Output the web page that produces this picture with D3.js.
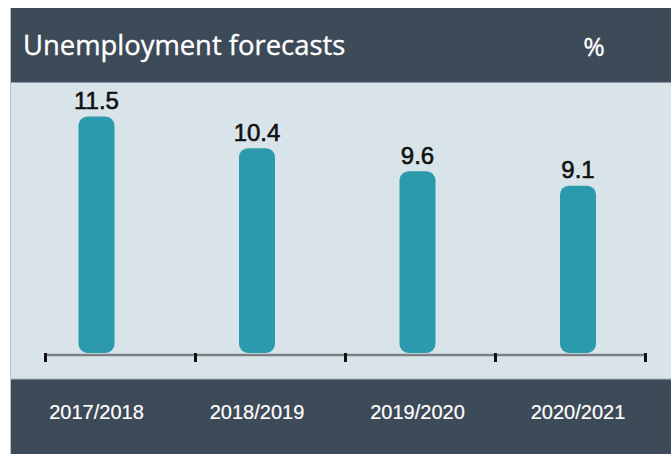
<!DOCTYPE html>
<html>
<head>
<meta charset="utf-8">
<script src="https://cdn.jsdelivr.net/npm/d3@7"></script>
<style>
  html, body { margin: 0; padding: 0; background: #ffffff; }
  svg { display: block; }
</style>
</head>
<body>
<svg id="chart" width="671" height="454"></svg>
<script>
// Unemployment forecasts, % by financial year
const categories = ["2017/2018", "2018/2019", "2019/2020", "2020/2021"];
const values = [11.5, 10.4, 9.6, 9.1];
const valueLabels = ["11.5", "10.4", "9.6", "9.1"];
const axisTicks = [0, 1, 2, 3, 4];
const title = "Unemployment forecasts";
const unit = "%";

const W = 671, H = 454;
const card = { x: 10.5, top: 8, headerBottom: 82.5, footerTop: 379 };
const colors = {
  dark: "#3d4a58",
  body: "#d9e4ea",
  bar: "#2b9aad",
  edge: "#8d99a4"
};

const svg = d3.select("#chart");

// Card panels: header, plot body, footer
svg.append("rect")
  .attr("x", card.x).attr("y", card.top)
  .attr("width", W - card.x + 2).attr("height", card.headerBottom - card.top)
  .attr("fill", colors.dark);
svg.append("rect")
  .attr("x", card.x).attr("y", card.headerBottom)
  .attr("width", W - card.x + 2).attr("height", card.footerTop - card.headerBottom)
  .attr("fill", colors.body);
svg.append("rect")
  .attr("x", card.x).attr("y", card.footerTop)
  .attr("width", W - card.x + 2).attr("height", H - card.footerTop + 2)
  .attr("fill", colors.dark);

// thin edges between panels and along the left side
svg.append("line")
  .attr("x1", card.x).attr("x2", W)
  .attr("y1", card.headerBottom).attr("y2", card.headerBottom)
  .attr("stroke", colors.edge).attr("stroke-width", 1);
svg.append("line")
  .attr("x1", card.x).attr("x2", W)
  .attr("y1", card.footerTop).attr("y2", card.footerTop)
  .attr("stroke", "#a9b5bd").attr("stroke-width", 1);
svg.append("line")
  .attr("x1", card.x).attr("x2", card.x)
  .attr("y1", card.top).attr("y2", H)
  .attr("stroke", "#b8c2c9").attr("stroke-width", 1);

// Header text
svg.append("text")
  .attr("x", 23).attr("y", 55)
  .attr("fill", "#ffffff")
  .attr("stroke", "#ffffff").attr("stroke-width", 0.35)
  .attr("font-family", "'Open Sans', sans-serif")
  .attr("font-size", 27.4)
  .text(title);
svg.append("text")
  .attr("x", 594).attr("y", 56)
  .attr("text-anchor", "middle")
  .attr("fill", "#ffffff")
  .attr("stroke", "#ffffff").attr("stroke-width", 0.3)
  .attr("font-family", "'Open Sans', sans-serif")
  .attr("font-size", 26)
  .text(unit);

// Scales
const x = d3.scalePoint().domain(categories).range([96.5, 578]);
const y = d3.scaleLinear().domain([3.3, 11.5]).range([353, 116.5]);
const tickScale = d3.scaleLinear().domain([0, 4]).range([45, 645]);
const barWidth = 36;

// Baseline axis with tick marks
const axisG = svg.append("g")
  .attr("transform", "translate(0,354.5)")
  .call(d3.axisBottom(tickScale)
    .tickValues(axisTicks)
    .tickSize(7.5)
    .tickSizeOuter(0)
    .tickFormat(""));
axisG.select(".domain")
  .attr("stroke", "#7b8085")
  .attr("stroke-width", 2.6);
axisG.selectAll(".tick line")
  .attr("stroke", "#111111")
  .attr("stroke-width", 3)
  .attr("y1", -1.5);

// Bars
svg.append("g").selectAll("rect")
  .data(values)
  .join("rect")
  .attr("x", (d, i) => x(categories[i]) - barWidth / 2)
  .attr("y", d => y(d))
  .attr("width", barWidth)
  .attr("height", d => y.range()[0] - y(d))
  .attr("rx", 9).attr("ry", 9)
  .attr("fill", colors.bar);

// Value labels
svg.append("g").selectAll("text")
  .data(values)
  .join("text")
  .attr("x", (d, i) => x(categories[i]))
  .attr("y", d => y(d) - 7.5)
  .attr("text-anchor", "middle")
  .attr("fill", "#111111")
  .attr("stroke", "#111111").attr("stroke-width", 0.6)
  .attr("font-family", "'Liberation Sans', Arial, sans-serif")
  .attr("font-size", 24)
  .text((d, i) => valueLabels[i]);

// Category labels in the footer
svg.append("g").selectAll("text")
  .data(categories)
  .join("text")
  .attr("x", d => x(d))
  .attr("y", 419)
  .attr("text-anchor", "middle")
  .attr("fill", "#ffffff")
  .attr("stroke", "#ffffff").attr("stroke-width", 0.2)
  .attr("font-family", "'Liberation Sans', Arial, sans-serif")
  .attr("font-size", 20)
  .text(d => d);
</script>
</body>
</html>
